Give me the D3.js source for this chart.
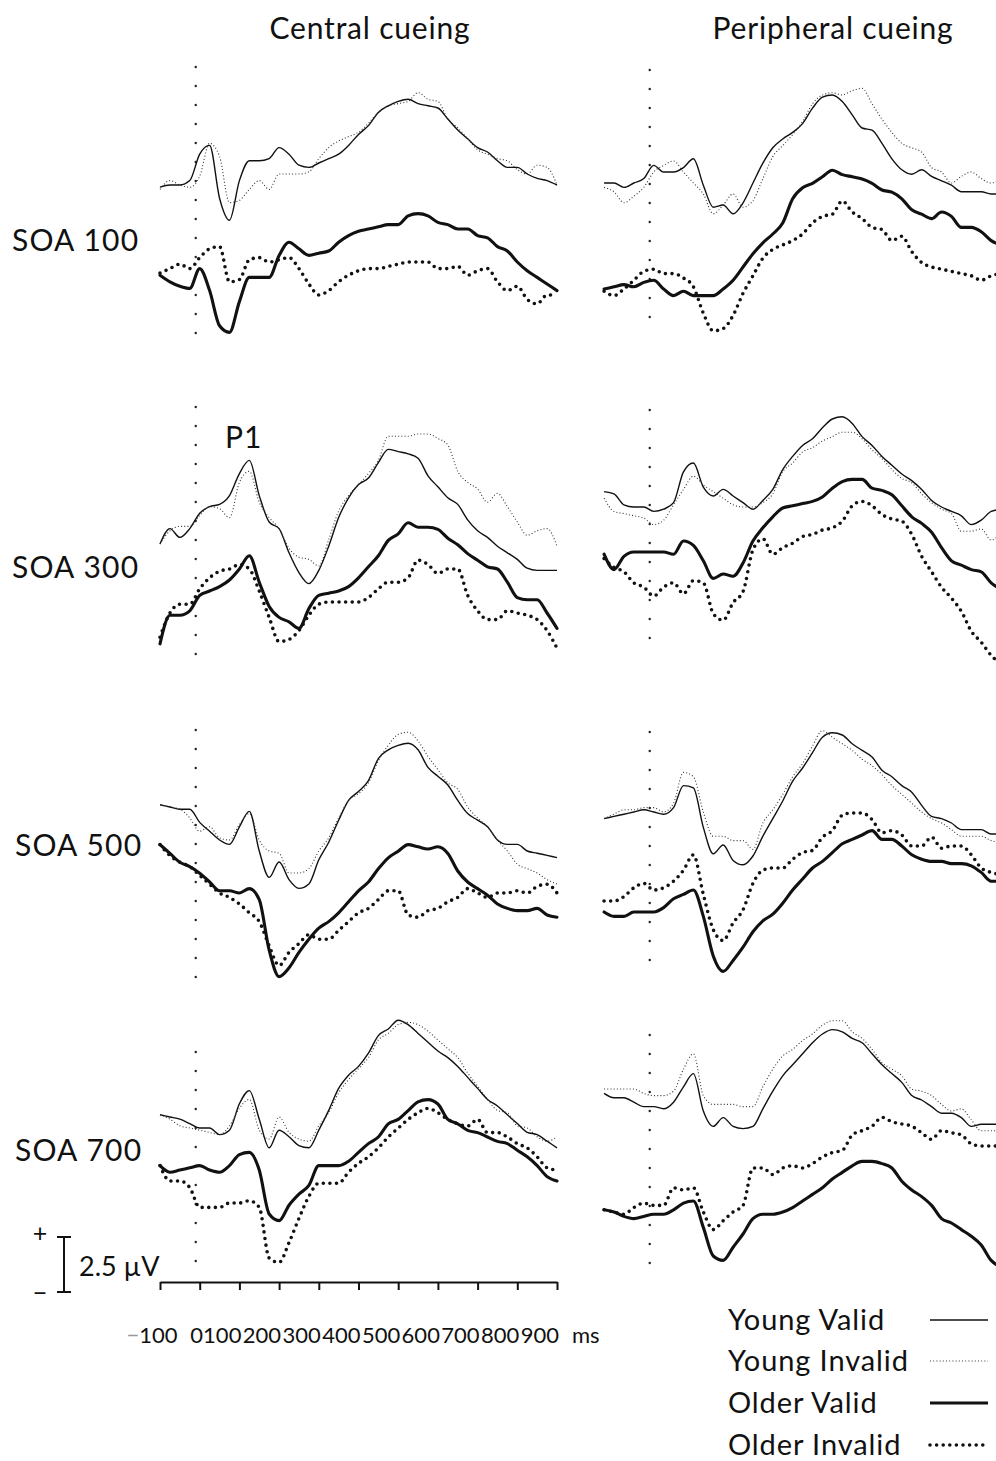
<!DOCTYPE html>
<html>
<head>
<meta charset="utf-8">
<script src="https://cdn.jsdelivr.net/npm/d3@7"></script>
<style>
  body { margin: 0; background: #fff; }
  text { font-family: Lato, "Open Sans", sans-serif; fill: #111; }
</style>
</head>
<body>
<div id="chart"></div>
<script>
// sample times (ms) for the two columns
let leftTimes = [-100,-75,-50,-25,0,25,50,75,100,125,150,175,200,225,250,275,300,325,350,375,400,425,450,475,500,525,550,575,600,625,650,675,700,725,750,775,800,825,850,875,900];
let rightTimes = [-125,-100,-75,-50,-25,0,25,50,75,100,125,150,175,200,225,250,275,300,325,350,375,400,425,450,475,500,525,550,575,600,625,650,675,700,725,750,775,800,825,850,875];

let columnTitles = ["Central cueing", "Peripheral cueing"];
let soaLabels = ["SOA 100", "SOA 300", "SOA 500", "SOA 700"];
let seriesNames = ["Young Valid", "Young Invalid", "Older Valid", "Older Invalid"];
let tickValues = [-100, 0, 100, 200, 300, 400, 500, 600, 700, 800, 900];
let tickLabels = ["100", "0", "100", "200", "300", "400", "500", "600", "700", "800", "900"];

// amplitudes in microvolts, relative to each group's baseline
// central cueing
let cen100YV = [-0.1,0,0,0.2,1.4,1.8,-0.6,-1.6,0.2,1.1,1.1,1.2,1.7,1.4,0.9,0.8,1.0,1.2,1.4,1.8,2.3,2.7,3.3,3.6,3.8,3.9,3.7,3.6,3.5,3.0,2.5,2.1,1.7,1.5,1.1,0.8,0.8,0.5,0.3,0.2,0];
let cen100YI = [-0.2,0.2,0,-0.1,0.4,1.9,1.3,-0.8,-0.7,-0.2,0.2,-0.2,0.5,0.5,0.5,0.6,1.2,1.7,2.0,2.2,2.4,2.8,3.3,3.6,3.7,3.8,4.2,3.9,3.8,3.0,2.6,2.1,1.6,1.4,1.2,1.1,0.7,0.5,0.9,0.8,0];
let cen100OV = [-0.1,-0.4,-0.6,-0.7,0.2,-0.8,-2.4,-2.7,-1.3,-0.2,-0.2,-0.2,0.8,1.4,1.1,0.8,0.9,1.0,1.4,1.7,1.9,2.0,2.1,2.2,2.2,2.6,2.7,2.6,2.3,2.2,2.0,2.0,1.7,1.6,1.2,1.0,0.5,0.1,-0.2,-0.5,-0.8];
let cen100OI = [0,0.2,0.4,0.2,0.7,1.1,1.2,-0.4,-0.3,0.6,0.7,0.5,0.6,0.7,0.2,-0.5,-1.0,-0.8,-0.4,-0.1,0.1,0.2,0.2,0.3,0.4,0.5,0.5,0.5,0.2,0.2,0.3,-0.1,0.1,0.2,-0.4,-0.8,-0.6,-1.2,-1.4,-1.0,-1.0];

let cen300YV = [-0.5,0.2,-0.2,0.2,0.9,1.2,1.3,1.7,2.7,3.3,1.7,0.5,0.2,-0.9,-1.8,-2.3,-1.7,-0.6,0.7,1.6,2.2,2.5,3.2,3.8,3.7,3.6,3.4,2.6,2.1,1.6,1.3,0.6,0.1,-0.2,-0.6,-0.9,-1.2,-1.6,-1.7,-1.7,-1.7];
let cen300YI = [-0.5,0.1,0.3,0.3,0.8,1.2,1.1,0.7,2.3,2.8,1.4,0.7,0.2,-0.7,-1.1,-1.2,-1.5,-0.3,1.0,1.7,2.2,2.7,3.3,4.4,4.4,4.4,4.5,4.5,4.3,4.0,2.8,2.3,2.0,1.4,1.8,1.2,0.5,-0.1,0.1,0.2,-0.6];
let cen300OV = [-1.4,-0.1,-0.1,0.1,0.8,1.0,1.2,1.5,2.0,2.6,1.4,0.3,-0.2,-0.4,-0.7,0.2,0.8,0.9,1.0,1.2,1.6,2.1,2.6,3.3,3.6,4.1,3.9,3.9,3.8,3.4,3.1,2.7,2.4,2.1,2.0,1.4,0.7,0.6,0.6,0,-0.7];
let cen300OI = [-1.1,0,0.4,0.4,1.1,1.6,1.9,2.0,2.2,2.0,1.0,-0.2,-1.3,-1.2,-0.8,-0.1,0.4,0.5,0.5,0.5,0.5,0.7,1.1,1.4,1.4,1.6,2.4,2.2,1.8,2.0,2.0,0.8,0.1,-0.3,-0.3,0.1,0,-0.1,-0.3,-0.8,-1.6];

let cen500YV = [0.1,0,-0.1,-0.1,-0.7,-1.1,-1.5,-1.7,-0.9,-0.2,-2.0,-3.2,-2.5,-3.3,-3.7,-3.5,-2.4,-1.6,-0.6,0.3,0.7,1.2,2.2,2.6,2.8,2.9,2.6,1.8,1.4,1.0,0.3,-0.3,-0.6,-0.9,-1.5,-1.7,-1.7,-2.0,-2.1,-2.2,-2.3];
let cen500YI = [0.1,0,-0.1,-0.5,-1.1,-0.9,-1.4,-1.5,-0.8,-0.3,-1.5,-2.0,-2.1,-3.0,-3.0,-2.8,-2.0,-1.4,-0.5,0.3,0.6,1.1,2.1,2.8,3.3,3.4,3.0,2.3,1.7,1.1,0.8,0,-0.5,-0.9,-1.5,-2.0,-2.6,-2.8,-3.0,-3.3,-3.5];
let cen500OV = [0.7,0.3,-0.1,-0.3,-0.6,-1.0,-1.4,-1.4,-1.5,-1.3,-1.8,-4.1,-5.3,-4.9,-4.2,-3.6,-3.1,-2.8,-2.4,-1.9,-1.4,-1.0,-0.4,0.1,0.4,0.7,0.6,0.5,0.6,0.3,-0.5,-1.0,-1.3,-1.6,-2.0,-2.2,-2.3,-2.3,-2.2,-2.5,-2.6];
let cen500OI = [0.7,0.2,-0.1,-0.3,-0.7,-1.1,-1.5,-1.7,-2.0,-2.4,-2.8,-3.9,-4.8,-4.2,-3.8,-3.4,-3.6,-3.6,-3.2,-2.8,-2.4,-2.2,-1.8,-1.4,-1.4,-2.5,-2.6,-2.3,-2.2,-1.9,-1.7,-1.3,-1.5,-1.7,-1.5,-1.5,-1.4,-1.5,-1.2,-1.1,-1.5];

let cen700YV = [0.1,0,-0.1,-0.3,-0.5,-0.5,-0.8,-0.6,0.6,1.2,-0.1,-1.4,-0.6,-0.9,-1.3,-1.4,-0.6,0.3,1.3,1.9,2.3,2.9,3.7,4.0,4.4,4.2,3.8,3.4,3.0,2.7,2.3,1.8,1.3,0.8,0.5,0.1,-0.3,-0.7,-0.8,-1.1,-1.4];
let cen700YI = [0.1,-0.1,-0.4,-0.5,-0.6,-0.7,-0.8,-0.4,0.4,0.8,-0.6,-1.0,0,-0.7,-1.0,-1.1,-0.4,0.2,1.1,1.7,2.2,2.7,3.5,3.8,4.2,4.3,4.2,3.9,3.5,3.1,2.7,2.0,1.4,0.8,0.3,0.2,-0.4,-0.5,-0.9,-1.1,-0.9];
let cen700OV = [0.2,-0.1,0,0.1,0.2,0,-0.1,0.2,0.7,0.8,0,-2.0,-2.3,-1.6,-1.1,-0.7,0.2,0.2,0.2,0.4,0.8,1.2,1.5,2.1,2.3,2.7,3.1,3.2,3.0,2.3,2.1,1.8,1.7,1.5,1.3,1.2,0.9,0.6,0.2,-0.3,-0.5];
let cen700OI = [0.2,-0.5,-0.5,-0.8,-1.7,-1.7,-1.7,-1.5,-1.5,-1.4,-1.7,-4.0,-4.2,-3.3,-2.2,-1.2,-0.6,-0.6,-0.6,-0.1,0.3,0.6,1.0,1.5,1.9,2.3,2.6,2.8,2.6,2.3,2.1,2.0,2.3,1.7,1.7,1.5,1.2,1.0,0.6,0.1,0];

// peripheral cueing
let per100YV = [0,0,-0.2,0,0.2,0.8,0.5,0.5,0.7,1.1,-0.1,-1.1,-1.0,-1.4,-0.9,0,0.9,1.6,2.0,2.3,2.7,3.4,3.9,4.0,3.7,3.1,2.5,2.4,1.8,1.1,0.6,0.4,0.6,0.3,0.1,-0.1,-0.4,-0.4,-0.4,-0.5,-0.5];
let per100YI = [-0.2,-0.4,-0.9,-0.6,-0.2,0.5,0.8,1.0,0.5,0,-0.5,-1.4,-1.0,-0.5,-1.1,-0.8,0.2,1.2,1.7,2.2,2.8,3.6,4.0,4.1,4.0,4.2,4.3,3.6,2.9,2.3,1.8,1.6,1.4,0.7,0.5,0,0.3,0.5,0.2,0,0.2];
let per100OV = [0,0.1,0.2,0.1,0.3,0.4,0,-0.3,-0.1,-0.3,-0.3,-0.3,0,0.4,1.0,1.6,2.1,2.5,3.0,4.1,4.6,4.8,5.1,5.4,5.2,5.1,5.0,4.8,4.5,4.4,4.1,3.6,3.4,3.2,3.5,3.3,2.8,2.8,2.6,2.2,2.0];
let per100OI = [-0.1,-0.3,0,0.4,0.8,0.9,0.7,0.7,0.5,0.1,-1.1,-1.9,-1.8,-1.2,-0.2,0.6,1.4,1.8,2.0,2.2,2.5,3.0,3.3,3.4,4.0,3.5,3.2,2.8,2.7,2.2,2.4,1.7,1.2,1.0,0.9,0.8,0.7,0.6,0.4,0.6,0.7];

let per300YV = [0.7,0.6,0.1,0,0,-0.2,-0.1,0.2,1.6,2.0,0.9,0.5,0.8,0.5,0.2,-0.1,0.3,0.8,1.7,2.3,2.8,3.1,3.6,4.0,4.1,3.8,3.2,2.8,2.3,1.9,1.5,1.2,0.8,0.3,0,-0.2,-0.4,-0.8,-0.6,-0.2,-0.1];
let per300YI = [0.4,-0.2,-0.3,-0.4,-0.5,-0.8,-0.6,0.1,0.8,1.4,1.0,0.7,0.4,0.1,0,0,0.2,0.6,1.6,2.0,2.5,2.7,3.0,3.2,3.4,3.4,3.1,2.6,2.2,1.7,1.3,1.1,0.6,0.2,-0.1,-0.3,-1.1,-1.1,-1.0,-1.5,-1.2];
let per300OV = [-0.1,-0.8,-0.2,0,0,0,0,-0.1,0.5,0.3,-0.4,-1.2,-1.0,-1.1,-0.5,0.5,1.1,1.6,2.0,2.1,2.2,2.3,2.5,2.9,3.2,3.3,3.3,2.9,2.8,2.6,2.1,1.6,1.3,0.9,0.2,-0.4,-0.6,-0.8,-0.9,-1.4,-1.7];
let per300OI = [-0.3,-0.7,-0.9,-1.4,-1.6,-2.0,-1.6,-1.4,-1.9,-1.3,-1.4,-2.8,-3.1,-2.3,-1.8,0.1,0.6,-0.1,0.2,0.4,0.7,0.8,1.0,1.1,1.4,2.1,2.3,2.1,1.7,1.5,1.4,0.8,-0.2,-0.9,-1.6,-2.1,-2.7,-3.6,-4.1,-4.7,-5.1];

let per500YV = [-0.3,-0.2,-0.1,0,0.1,0,-0.1,0.2,1.2,1.1,-0.7,-1.9,-1.5,-2.2,-2.4,-2.0,-1.1,-0.3,0.5,1.4,2.0,2.7,3.4,3.6,3.5,3.1,2.8,2.5,1.9,1.6,1.2,0.9,0.3,-0.2,-0.3,-0.5,-0.8,-0.8,-0.8,-1.0,-1.0];
let per500YI = [-0.3,-0.1,0.1,0.1,0.2,0.2,0,0.4,1.8,1.6,0,-1.1,-1.1,-1.3,-1.3,-1.7,-0.5,0.1,0.8,1.6,2.2,3.0,3.7,3.4,3.1,2.8,2.4,2.1,1.7,1.2,0.8,0.4,0,-0.3,-0.5,-0.8,-1.1,-1.1,-1.1,-1.3,-1.4];
let per500OV = [0,-0.2,-0.2,0,0,0,0.2,0.6,0.8,1.0,-0.2,-2.0,-2.7,-2.2,-1.6,-0.9,-0.4,-0.1,0.4,1.0,1.5,2.0,2.3,2.7,3.1,3.3,3.5,3.7,3.3,3.3,3.0,2.6,2.4,2.3,2.3,2.2,2.2,2.1,1.8,1.4,1.4];
let per500OI = [0.5,0.5,0.7,1.1,1.3,1.0,1.1,1.4,1.9,2.6,0.8,-0.8,-1.3,-0.5,0.1,1.3,1.9,2.0,2.0,2.4,2.7,2.8,3.4,3.7,4.4,4.5,4.5,4.2,3.6,3.7,3.5,3.0,3.0,3.4,2.9,3.0,3.0,2.6,2.0,1.8,1.7];

let per700YV = [0.3,0.1,0.1,-0.1,-0.3,-0.3,-0.4,-0.1,0.6,1.2,-0.5,-1.2,-0.8,-1.2,-1.3,-1.2,-0.4,0.4,1.1,1.6,2.1,2.6,3.0,3.2,3.1,2.8,2.6,2.1,1.6,1.2,0.8,0.2,0,-0.3,-0.6,-0.6,-0.8,-1.2,-1.1,-1.1,-1.1];
let per700YI = [0.5,0.5,0.5,0.5,0.3,0.2,0.2,0.4,1.4,2.1,0.2,-0.2,-0.2,-0.2,-0.3,-0.3,0.6,1.4,2.0,2.3,2.7,3.0,3.4,3.6,3.6,3.1,2.8,2.3,1.7,1.4,1.1,0.5,0.4,0.2,-0.2,-0.5,-0.4,-0.9,-1.4,-1.4,-1.4];
let per700OV = [0.1,0,-0.2,-0.3,-0.2,-0.1,-0.1,0.1,0.4,0.5,-0.7,-2.0,-2.2,-1.6,-1.0,-0.3,-0.1,-0.1,0,0.2,0.5,0.8,1.1,1.5,1.8,2.1,2.3,2.3,2.2,2.0,1.4,1.0,0.7,0.3,-0.3,-0.5,-0.8,-1.1,-1.5,-2.2,-2.5];
let per700OI = [0.1,0,-0.1,0.2,0.4,0.3,0.3,1.1,1.0,1.1,0,-0.8,-0.4,0,0.3,2.0,2.0,1.7,2.0,2.1,2.0,2.2,2.5,2.7,2.8,3.5,3.7,3.9,4.3,4.1,4.0,3.9,3.6,3.3,3.7,3.6,3.5,3.1,3.0,3.0,3.0];

let width = 996, height = 1461;
let pxPerUV = 22;

let svg = d3.select("#chart")
            .append("svg")
            .attr("width", width)
            .attr("height", height);

let xLeft = d3.scaleLinear().domain([-100, 900]).range([160, 557]);
let xRight = d3.scaleLinear().domain([-100, 900]).range([614, 1011]);

// panel layout: baselines for young / older traces and the onset marker extent
let panels = [
  {col: 0, row: 0, young: 185, older: 273, top: 67, bottom: 350, data: [cen100YV, cen100YI, cen100OV, cen100OI]},
  {col: 1, row: 0, young: 183, older: 289, top: 70, bottom: 335, data: [per100YV, per100YI, per100OV, per100OI]},
  {col: 0, row: 1, young: 533, older: 613, top: 407, bottom: 655, data: [cen300YV, cen300YI, cen300OV, cen300OI]},
  {col: 1, row: 1, young: 507, older: 552, top: 410, bottom: 657, data: [per300YV, per300YI, per300OV, per300OI]},
  {col: 0, row: 2, young: 807, older: 860, top: 730, bottom: 995, data: [cen500YV, cen500YI, cen500OV, cen500OI]},
  {col: 1, row: 2, young: 812, older: 912, top: 732, bottom: 978, data: [per500YV, per500YI, per500OV, per500OI]},
  {col: 0, row: 3, young: 1117, older: 1170, top: 1052, bottom: 1262, data: [cen700YV, cen700YI, cen700OV, cen700OI]},
  {col: 1, row: 3, young: 1100, older: 1212, top: 1035, bottom: 1282, data: [per700YV, per700YI, per700OV, per700OI]}
];

let styles = [
  {w: 1.4, dash: null, cap: "butt", color: "#111"},
  {w: 1.1, dash: "1,2.2", cap: "butt", color: "#333"},
  {w: 3.1, dash: null, cap: "round", color: "#111"},
  {w: 3.6, dash: "0,6.6", cap: "round", color: "#111"}
];

panels.forEach(function(p){
  let x = p.col == 0 ? xLeft : xRight;
  let times = p.col == 0 ? leftTimes : rightTimes;
  let g = svg.append("g");

  // stimulus onset marker
  g.append("line")
    .attr("x1", x(-10)).attr("x2", x(-10))
    .attr("y1", p.top).attr("y2", p.bottom)
    .style("stroke", "#222")
    .style("stroke-width", 2.4)
    .style("stroke-linecap", "round")
    .style("stroke-dasharray", "0,19");

  p.data.forEach(function(values, i){
    let base = i < 2 ? p.young : p.older;
    let y = d3.scaleLinear().domain([0, 1]).range([base, base - pxPerUV]);
    let line = d3.line()
                 .x(function(d, j){ return x(times[j]); })
                 .y(function(d){ return y(d); })
                 .curve(d3.curveMonotoneX);
    let s = styles[i];
    g.append("path")
      .attr("d", line(values))
      .style("fill", "none")
      .style("stroke", s.color)
      .style("stroke-width", s.w)
      .style("stroke-linejoin", "round")
      .style("stroke-linecap", s.cap)
      .style("stroke-dasharray", s.dash);
  });
});

// column titles
svg.selectAll(".title")
   .data(columnTitles)
   .enter()
   .append("text")
   .attr("x", function(d, i){ return i == 0 ? 370 : 833; })
   .attr("y", 39)
   .attr("text-anchor", "middle")
   .style("font-size", "30px")
   .style("letter-spacing", "0.8px")
   .text(function(d){ return d; });

// SOA row labels
let soaY = [251, 578, 856, 1161];
svg.selectAll(".soa")
   .data(soaLabels)
   .enter()
   .append("text")
   .attr("x", function(d, i){ return i < 2 ? 12 : 15; })
   .attr("y", function(d, i){ return soaY[i]; })
   .style("font-size", "30px")
   .style("letter-spacing", "1.2px")
   .text(function(d){ return d; });

svg.append("text")
   .attr("x", 225).attr("y", 448)
   .style("font-size", "30px")
   .style("letter-spacing", "1px")
   .text("P1");

// time axis under the central column
let axis = d3.axisBottom(xLeft)
             .tickValues(tickValues)
             .tickSize(8)
             .tickSizeOuter(0)
             .tickFormat("");
let axisG = svg.append("g")
               .attr("transform", "translate(0,1282)")
               .call(axis);
axisG.select(".domain").style("stroke", "#111").style("stroke-width", 2);
axisG.selectAll(".tick line").style("stroke", "#111").style("stroke-width", 2);

let labG = svg.append("g").style("font-size", "22px");
tickLabels.forEach(function(lab, i){
  let t = tickValues[i];
  let txt = labG.append("text").attr("y", 1343);
  if (i == 0) {
    txt.attr("x", xLeft(t) - 8).attr("text-anchor", "middle");
    txt.append("tspan").style("fill", "#999").text("\u2212");
    txt.append("tspan").text(lab);
  } else if (i == 1) {
    txt.attr("x", xLeft(t) - 3).attr("text-anchor", "middle").text(lab);
  } else {
    txt.attr("x", xLeft(t) + 2).attr("text-anchor", "end").text(lab);
  }
});
labG.append("text")
    .attr("x", xLeft(900) + 15).attr("y", 1343)
    .text("ms");

// amplitude calibration bar
let barScale = d3.scaleLinear().domain([0, 2.5]).range([1292, 1292 - 2.5 * pxPerUV]);
let bar = svg.append("g").style("stroke", "#111").style("stroke-width", 2);
bar.append("line").attr("x1", 64).attr("x2", 64).attr("y1", barScale(0)).attr("y2", barScale(2.5));
bar.append("line").attr("x1", 57).attr("x2", 71).attr("y1", barScale(0)).attr("y2", barScale(0));
bar.append("line").attr("x1", 57).attr("x2", 71).attr("y1", barScale(2.5)).attr("y2", barScale(2.5));
svg.append("text").attr("x", 40).attr("y", 1242).attr("text-anchor", "middle").style("font-size", "25px").text("+");
svg.append("text").attr("x", 40).attr("y", 1302).attr("text-anchor", "middle").style("font-size", "25px").text("\u2212");
svg.append("text").attr("x", 79).attr("y", 1276).style("font-size", "27px").text("2.5 \u00b5V");

// legend
let legY = [1320, 1361, 1403, 1445];
let leg = svg.append("g");
seriesNames.forEach(function(name, i){
  leg.append("text")
     .attr("x", 728).attr("y", legY[i] + 10)
     .style("font-size", "29px")
     .style("letter-spacing", "0.9px")
     .text(name);
  let s = styles[i];
  leg.append("line")
     .attr("x1", 930).attr("x2", 988)
     .attr("y1", legY[i]).attr("y2", legY[i])
     .style("stroke", s.color)
     .style("stroke-width", s.w)
     .style("stroke-linecap", s.cap == "round" && s.dash ? "round" : "butt")
     .style("stroke-dasharray", s.dash);
});
</script>
</body>
</html>
